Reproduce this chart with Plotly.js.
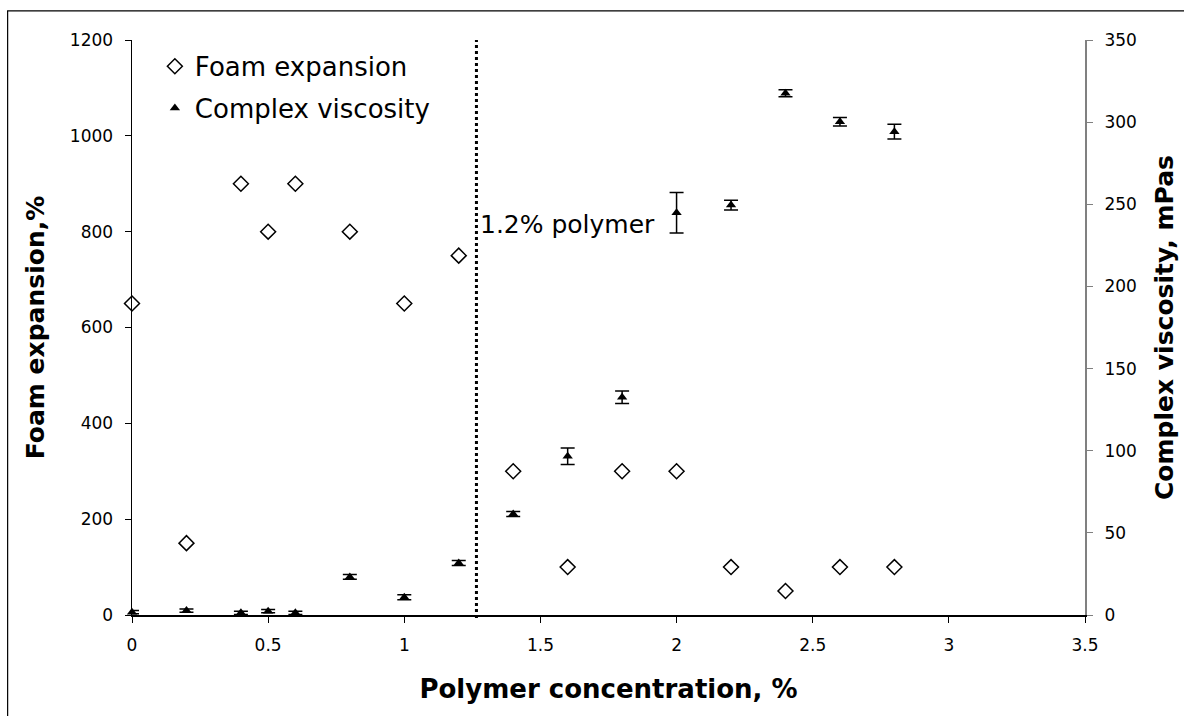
<!DOCTYPE html>
<html>
<head>
<meta charset="utf-8">
<script src="https://cdn.plot.ly/plotly-3.0.1.min.js"></script>
<style>
  html, body { margin: 0; padding: 0; background: #ffffff; }
  #chart { width: 1184px; height: 716px; }
</style>
</head>
<body>
<div id="chart"></div>
<script>
// Polymer concentration, %
const concentration = [0, 0.2, 0.4, 0.5, 0.6, 0.8, 1.0, 1.2, 1.4, 1.6, 1.8, 2.0, 2.2, 2.4, 2.6, 2.8];
// Foam expansion, %
const foamExpansion = [650, 150, 900, 800, 900, 800, 650, 750, 300, 100, 300, 300, 100, 50, 100, 100];
// Complex viscosity, mPas
const complexViscosity = [1.7, 2.7, 1.3, 2.3, 1.3, 23.2, 10.8, 31.7, 61.5, 96.6, 132.5, 244.8, 249.5, 317.6, 300.3, 294.2];
const viscosityError = [1, 1, 1, 1, 1, 1.5, 1.5, 1.5, 1.5, 5, 3.8, 12.3, 3, 2.1, 2.6, 4.5];

const xTicks = [0, 0.5, 1, 1.5, 2, 2.5, 3, 3.5];
const leftTicks = [0, 200, 400, 600, 800, 1000, 1200];
const rightTicks = [0, 50, 100, 150, 200, 250, 300, 350];

const thresholdConcentration = 1.265;
const thresholdLabel = '1.2% polymer';

const REG = 'DejaVu Sans, Liberation Sans, Arial, sans-serif';
const BOLD = 'DejaVu Sans, Liberation Sans, Arial, sans-serif';

const traces = [
  {
    x: concentration, y: foamExpansion, name: 'Foam expansion',
    type: 'scatter', mode: 'markers', yaxis: 'y', legendgroup: 'a',
    cliponaxis: false,
    marker: { symbol: 'diamond-open', size: 11.5, color: '#000', line: { color: '#000', width: 1.5 } }
  },
  {
    x: concentration, y: complexViscosity, name: 'Complex viscosity',
    type: 'scatter', mode: 'markers', yaxis: 'y2', legendgroup: 'b',
    cliponaxis: false,
    marker: { symbol: 'triangle-up', size: 9, color: '#000' },
    error_y: { type: 'data', array: viscosityError, visible: true, color: '#000', thickness: 1.5, width: 7 }
  }
];

const layout = {
  width: 1184, height: 716,
  paper_bgcolor: '#ffffff', plot_bgcolor: '#ffffff',
  margin: { l: 132, r: 99, t: 40, b: 101, pad: 0 },
  showlegend: true,
  legend: {
    x: 0.024, y: 0.995, xanchor: 'left', yanchor: 'top',
    bgcolor: 'rgba(0,0,0,0)', borderwidth: 0,
    font: { family: REG, size: 26, color: '#000' },
    tracegroupgap: 5
  },
  xaxis: {
    range: [0, 3.5], tickvals: xTicks, ticktext: xTicks.map(String),
    showgrid: false, zeroline: false, showline: true,
    linecolor: '#000', linewidth: 1.5,
    ticks: 'outside', ticklen: 6, tickcolor: '#000', tickwidth: 1,
    ticklabelstandoff: 8,
    tickfont: { family: REG, size: 17, color: '#000' },
    title: { text: 'Polymer concentration, %', standoff: 26,
             font: { family: BOLD, size: 26, color: '#000', weight: 'bold' } },
    automargin: false
  },
  yaxis: {
    range: [0, 1200], tickvals: leftTicks,
    showgrid: false, zeroline: false, showline: true,
    linecolor: '#000', linewidth: 1.5,
    ticks: 'outside', ticklen: 6, tickcolor: '#000', tickwidth: 1,
    ticklabelstandoff: 8,
    tickfont: { family: REG, size: 17, color: '#000' },
    title: { text: 'Foam expansion,%', standoff: 18,
             font: { family: BOLD, size: 25, color: '#000', weight: 'bold' } },
    automargin: false
  },
  yaxis2: {
    range: [0, 350], tickvals: rightTicks,
    overlaying: 'y', side: 'right',
    showgrid: false, zeroline: false, showline: true,
    linecolor: '#808080', linewidth: 2,
    ticks: 'outside', ticklen: 6, tickcolor: '#808080', tickwidth: 1,
    ticklabelstandoff: 8,
    tickfont: { family: REG, size: 17, color: '#000' },
    title: { text: 'Complex viscosity, mPas', standoff: 20,
             font: { family: BOLD, size: 25, color: '#000', weight: 'bold' } },
    automargin: false
  },
  shapes: [
    { type: 'line', xref: 'x', yref: 'paper', x0: thresholdConcentration, x1: thresholdConcentration,
      y0: -0.005, y1: 1, line: { color: '#000', width: 3, dash: 'dot' } },
    { type: 'rect', xref: 'paper', yref: 'paper', x0: -0.1305, x1: 1.2, y0: -0.3, y1: 1.0505,
      line: { color: '#000', width: 1.2 }, fillcolor: 'rgba(0,0,0,0)', layer: 'below' }
  ],
  annotations: [
    { text: thresholdLabel, xref: 'x', yref: 'y2', x: thresholdConcentration, y: 238,
      xanchor: 'left', yanchor: 'middle', xshift: 2, showarrow: false,
      font: { family: REG, size: 25, color: '#000' } }
  ]
};

Plotly.newPlot('chart', traces, layout, { displayModeBar: false, staticPlot: true });
</script>
</body>
</html>
